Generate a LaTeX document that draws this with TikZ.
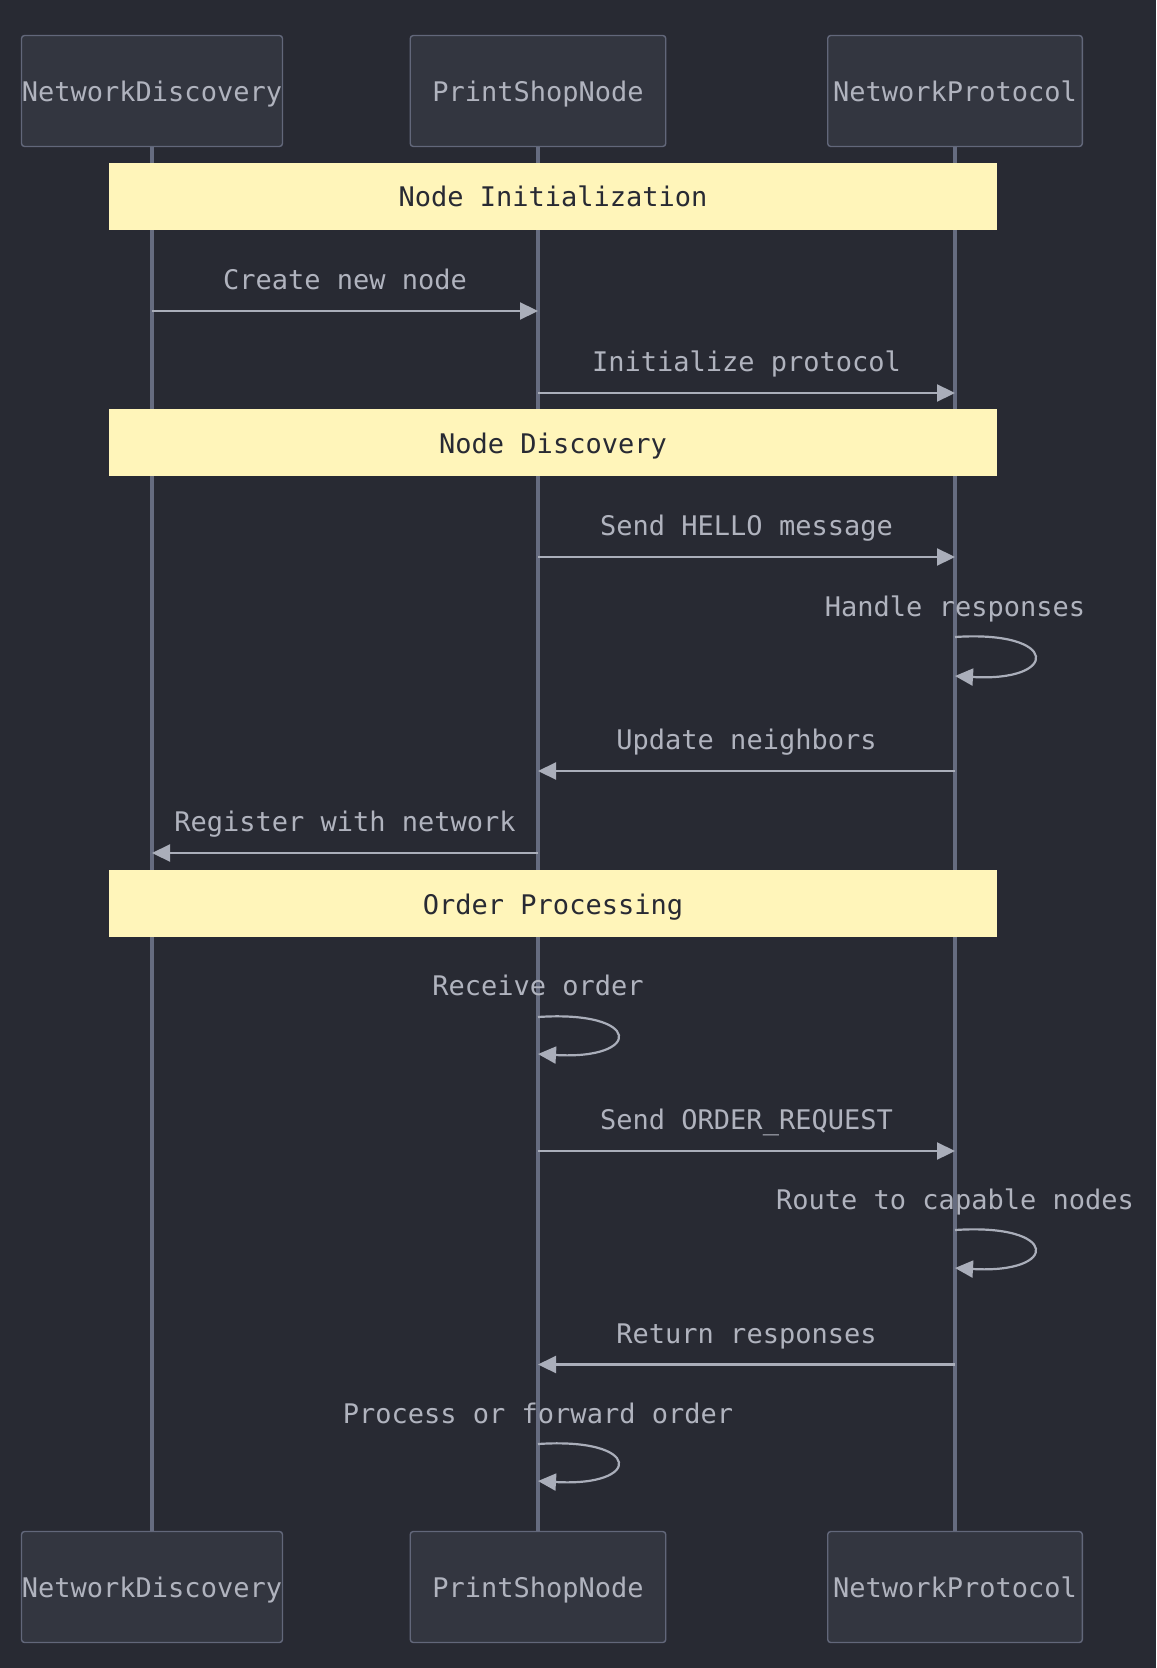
\documentclass[tikz,border=0pt]{standalone}
\usepackage{fontspec}
\setmonofont{DejaVu Sans Mono}
\usepackage{tikz}
\usetikzlibrary{arrows.meta,positioning}

\definecolor{bgdark}{RGB}{40,42,51}
\definecolor{actorfill}{RGB}{51,54,64}
\definecolor{actorline}{RGB}{98,103,122}
\definecolor{lifecol}{RGB}{102,108,128}
\definecolor{labeltext}{RGB}{176,179,190}
\definecolor{arrowcol}{RGB}{170,174,186}
\definecolor{notefill}{RGB}{255,245,186}
\definecolor{notetext}{RGB}{40,42,51}

\newcommand{\seqfont}{\ttfamily\fontsize{13.5pt}{16pt}\selectfont}

\tikzset{
  actor/.style={draw=actorline, fill=actorfill, line width=0.7pt, rounded corners=1.5pt,
    minimum height=55.5pt, inner sep=0pt, text=labeltext, font=\seqfont,
    text height=11.5pt, text depth=1pt},
  lifeline/.style={draw=lifecol, line width=1.6pt},
  notebox/.style={fill=notefill, text=notetext, minimum width=444.25pt,
    minimum height=33.5pt, inner sep=0pt, font=\seqfont,
    text height=11.5pt, text depth=1pt},
  msg/.style={draw=arrowcol, line width=1.1pt, -{Triangle[length=9pt,width=8.5pt]}},
  msglabel/.style={text=labeltext, font=\seqfont, inner sep=0pt,
    text height=9pt, text depth=2.5pt}
}

\begin{document}
\begin{tikzpicture}[x=0.5pt, y=-0.5pt]
\def \ndx {152}
\def \psx {538}
\def \npx {955}
\def \topy {91}
\def \boty {1587}
\def \notex {553}
\def \loopw {105}

\useasboundingbox (0,0) rectangle (1156,1668);
\fill[bgdark] (0,0) rectangle (1156,1668);

%Actors top and bottom
\node[actor, minimum width=130.5pt] (ndTop) at (\ndx,\topy) {NetworkDiscovery};
\node[actor, minimum width=127.75pt] (psTop) at (\psx,\topy) {PrintShopNode};
\node[actor, minimum width=127.3pt] (npTop) at (\npx,\topy) {NetworkProtocol};
\node[actor, minimum width=130.5pt] (ndBot) at (\ndx,\boty) {NetworkDiscovery};
\node[actor, minimum width=127.75pt] (psBot) at (\psx,\boty) {PrintShopNode};
\node[actor, minimum width=127.3pt] (npBot) at (\npx,\boty) {NetworkProtocol};

%Lifelines
\draw[lifeline] (ndTop) -- (ndBot);
\draw[lifeline] (psTop) -- (psBot);
\draw[lifeline] (npTop) -- (npBot);

%Node Initialization
\node[notebox] (noteInit) at (\notex,196.3) {Node Initialization};

\draw[msg] (ndTop |- 0,311) -- (psTop |- 0,311)
  node[msglabel, midway, yshift=14pt] (lblCreate) {Create new node};
\draw[msg] (psTop |- 0,393) -- (npTop |- 0,393)
  node[msglabel, midway, yshift=14pt] (lblInit) {Initialize protocol};

%Node Discovery
\node[notebox] (noteDisc) at (\notex,442.9) {Node Discovery};

\draw[msg] (psTop |- 0,557) -- (npTop |- 0,557)
  node[msglabel, midway, yshift=14pt] (lblHello) {Send HELLO message};

\node[msglabel] (lblHandle) at (\npx,610) {Handle responses};
\draw[msg] (npTop |- 0,637) .. controls +(\loopw,-7) and +(\loopw,6) .. (npTop |- 0,676);

\draw[msg] (npTop |- 0,771) -- (psTop |- 0,771)
  node[msglabel, midway, yshift=14pt] (lblUpdate) {Update neighbors};
\draw[msg] (psTop |- 0,853) -- (ndTop |- 0,853)
  node[msglabel, midway, yshift=14pt] (lblRegister) {Register with network};

%Order Processing
\node[notebox] (noteOrder) at (\notex,903.5) {Order Processing};

\node[msglabel] (lblReceive) at (\psx,989) {Receive order};
\draw[msg] (psTop |- 0,1017) .. controls +(\loopw,-7) and +(\loopw,6) .. (psTop |- 0,1054);

\draw[msg] (psTop |- 0,1151) -- (npTop |- 0,1151)
  node[msglabel, midway, yshift=14pt] (lblOrderReq) {Send ORDER\_REQUEST};

\node[msglabel] (lblRoute) at (\npx,1203) {Route to capable nodes};
\draw[msg] (npTop |- 0,1230) .. controls +(\loopw,-7) and +(\loopw,6) .. (npTop |- 0,1268);

\draw[msg] (npTop |- 0,1364.5) -- (psTop |- 0,1364.5)
  node[msglabel, midway, yshift=14pt] (lblReturn) {Return responses};

\node[msglabel] (lblProcess) at (\psx,1416.5) {Process or forward order};
\draw[msg] (psTop |- 0,1444) .. controls +(\loopw,-7) and +(\loopw,6) .. (psTop |- 0,1481);

\end{tikzpicture}
\end{document}
